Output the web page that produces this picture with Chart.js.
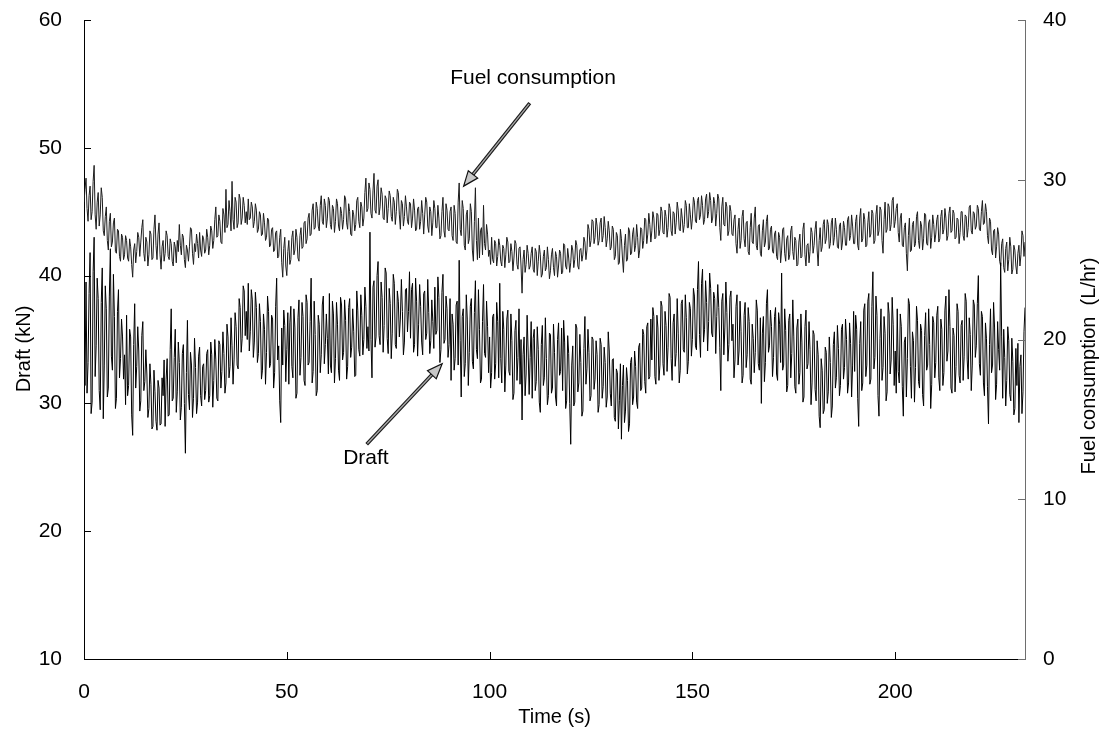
<!DOCTYPE html>
<html>
<head>
<meta charset="utf-8">
<script src="https://cdn.jsdelivr.net/npm/chart.js@4.4.1/dist/chart.umd.min.js"></script>
<style>
  html, body { margin: 0; padding: 0; background: #fff; }
  #wrap { width: 1103px; height: 748px; }
  canvas { display: block; }
</style>
</head>
<body>
<div id="wrap"><canvas id="c" width="1103" height="748"></canvas></div>
<script>
// ---------------- DATA (sampled every 0.25 s) ----------------
const sampleStep = 0.25;          // seconds between samples
const xTickValues = [0, 50, 100, 150, 200];
const draftTickValues = [10, 20, 30, 40, 50, 60];
const fuelTickValues = [0, 10, 20, 30, 40];

// Draft (kN), 40 samples per 10 s block
const draft000 = [36.0,31.4,39.5,30.8,33.2,38.6,41.8,29.2,30.1,40.3,43.0,32.1,34.5,39.8,38.2,31.0,29.5,37.9,40.6,28.8,33.0,39.2,37.4,30.5,31.2,38.4,42.1,33.7,32.6,40.1,36.8,29.6,30.4,37.2,38.9,32.0,33.5,36.6,35.2,31.9];
const draft010 = [33.8,29.9,36.9,30.6,31.4,35.8,35.2,29.1,27.5,34.6,37.8,31.2,32.9,36.0,34.1,29.4,30.2,35.3,36.4,31.0,31.7,34.2,32.3,28.9,29.6,33.1,31.5,28.0,28.2,32.6,30.9,28.6,27.9,31.8,31.2,28.3,28.4,32.0,30.6,33.4];
const draft020 = [28.2,31.9,33.5,29.0,29.1,34.2,37.4,30.2,30.4,33.6,35.8,29.3,30.9,34.8,33.2,28.7,29.7,33.9,34.6,30.0,26.1,32.4,36.5,30.7,29.5,34.0,33.0,28.9,30.4,35.1,32.8,29.2,30.1,33.7,34.4,30.6,29.8,32.9,33.1,30.3];
const draft030 = [31.0,33.9,34.2,30.1,30.6,34.8,33.8,29.7,31.8,35.0,33.4,30.4,30.2,34.9,34.6,31.2,32.5,35.6,33.9,30.8,31.6,36.2,35.2,32.0,32.9,36.7,34.5,31.5,33.4,37.1,36.0,33.0,32.7,38.2,37.5,34.0,35.1,39.2,38.8,35.3];
const draft040 = [37.2,35.0,39.4,34.1,35.6,38.9,38.1,33.6,34.8,38.7,37.5,33.2,33.9,37.8,36.4,31.9,32.6,37.0,35.8,31.5,34.0,38.4,37.2,32.8,33.1,36.9,36.6,31.2,32.4,37.6,39.8,33.4,34.5,30.2,28.5,35.9,33.0,37.3,36.1,31.7];
const draft050 = [34.2,37.1,31.5,36.3,37.6,32.9,32.0,37.4,35.9,30.4,30.8,36.7,38.1,32.2,33.6,37.9,36.8,31.8,31.4,38.5,37.9,33.0,33.2,36.4,39.8,31.6,32.5,38.0,35.4,30.6,31.0,36.9,36.2,32.4,33.8,37.7,38.4,33.1,34.6,37.0];
const draft060 = [35.1,32.3,38.6,33.0,32.4,38.0,37.0,31.6,33.5,37.9,36.2,32.6,31.8,38.3,37.7,33.4,34.0,38.1,36.5,31.9,32.9,37.5,38.2,33.6,34.4,37.4,35.6,32.1,32.2,38.8,37.3,34.2,33.7,38.5,36.9,33.8,35.0,39.1,37.6,34.3];
const draft070 = [36.0,34.1,43.4,35.0,32.0,39.1,39.6,34.4,35.2,40.0,41.1,35.3,34.6,39.5,38.3,34.0,36.1,40.6,40.2,35.1,33.9,39.0,37.8,33.5,35.5,40.1,39.4,34.6,34.3,38.8,38.0,35.2,36.6,39.7,37.2,33.8,34.8,38.9,39.0,35.6];
const draft080 = [37.2,40.3,35.1,38.9,39.4,34.0,34.6,39.8,38.0,33.7,36.2,39.3,37.6,34.8,33.8,38.6,38.8,35.0,35.5,39.7,37.1,33.9,34.9,38.1,36.4,34.3,39.1,35.4,35.7,39.9,38.3,33.2,34.2,38.7,40.1,34.7,35.0,38.4,37.4,33.6];
const draft090 = [34.6,38.2,31.8,37.0,36.2,32.6,33.5,37.7,38.0,33.0,41.2,34.9,30.5,36.8,37.4,32.1,33.1,38.5,36.6,31.4,34.0,37.6,38.2,33.3,32.7,37.1,39.6,34.2,33.5,38.9,35.8,31.6,31.9,36.4,39.3,33.9,33.6,38.0,36.0,32.4];
const draft100 = [35.2,31.2,32.4,36.8,37.0,31.9,33.1,37.9,36.4,32.0,39.4,33.5,31.6,37.2,35.8,30.9,33.0,36.6,37.3,32.5,32.2,37.0,34.9,30.3,30.8,35.7,36.5,31.8,33.6,37.4,31.5,35.0,28.7,33.8,35.2,30.6,32.3,36.9,34.1,30.7];
const draft110 = [33.6,36.4,30.4,35.1,35.8,31.0,31.7,36.0,34.2,30.1,29.3,34.6,36.1,31.4,32.0,36.7,33.5,29.9,30.6,35.5,35.4,30.8,31.2,36.2,34.0,30.5,29.8,35.0,36.3,32.2,32.5,35.9,31.0,36.5,34.8,29.6,30.2,35.3,33.9,30.0];
const draft120 = [26.8,33.0,34.5,29.8,30.1,36.2,35.9,30.9,31.6,35.4,33.2,29.0,29.4,34.3,36.8,31.5,32.7,35.8,34.0,30.2,30.6,35.2,35.0,31.1,31.9,34.9,33.8,29.3,29.9,35.1,34.6,30.4,31.3,34.4,33.2,29.7,30.5,35.6,34.1,30.8];
const draft130 = [29.8,33.4,33.5,28.9,28.6,32.7,32.4,28.0,30.2,33.1,27.2,31.4,33.0,28.5,29.4,32.8,31.8,27.8,28.4,33.2,33.6,29.9,30.5,34.1,32.9,30.1,29.6,34.4,34.7,31.0,31.2,35.8,35.4,31.7,30.8,36.0,36.3,31.9,32.1,36.6];
const draft140 = [33.4,37.5,36.8,32.1,31.5,36.9,35.9,31.8,33.0,38.0,37.6,33.1,32.2,37.2,36.1,32.5,34.4,38.6,38.3,33.5,31.8,36.3,37.0,32.9,33.9,38.2,35.5,31.6,32.6,37.8,38.1,34.2,34.0,38.5,36.7,32.3,33.3,37.9,37.4,33.7];
const draft150 = [35.0,39.0,38.4,34.5,34.2,38.9,41.1,35.4,33.6,39.4,40.5,34.8,35.8,39.6,37.9,34.1,36.4,40.2,39.0,35.5,35.2,38.7,38.2,33.9,36.8,39.3,37.5,34.4,31.0,38.0,38.6,33.8,35.9,39.5,37.1,33.3,34.6,38.3,38.8,34.9];
const draft160 = [36.2,32.0,33.4,37.6,38.5,33.0,34.1,38.0,35.6,31.6,32.2,36.9,37.9,32.8,33.8,37.5,36.4,31.9,31.5,36.2,35.1,32.4,34.0,38.1,37.3,33.1,32.6,36.7,30.0,35.5,36.8,31.7,33.2,37.8,38.9,34.0,34.5,37.3,36.0,32.1];
const draft170 = [33.6,36.8,37.5,32.3,31.8,37.1,36.2,33.2,40.2,32.6,33.0,37.4,35.7,30.9,31.4,36.5,37.0,32.0,33.9,38.1,35.2,31.3,30.8,35.9,36.6,31.5,32.4,37.0,34.8,30.1,30.5,36.0,37.3,32.7,33.1,36.4,34.2,29.9,31.6,35.7];
const draft180 = [35.4,31.1,30.2,34.9,33.8,29.0,28.1,33.5,32.6,29.2,29.5,34.4,34.0,30.0,30.9,35.2,33.2,28.9,29.8,34.6,35.6,31.2,32.0,36.1,34.3,30.6,31.4,35.8,36.2,31.9,32.8,36.6,35.0,30.8,31.6,36.3,34.7,30.5,33.0,37.2];
const draft190 = [32.5,36.9,35.8,30.4,28.2,34.7,36.4,31.0,31.6,37.3,37.8,32.1,33.0,38.0,38.6,31.5,31.9,37.6,40.3,32.7,33.6,38.4,36.9,30.6,29.0,35.1,37.4,31.8,32.8,36.8,35.5,30.2,30.9,37.9,37.0,32.3,33.4,38.3,36.2,31.4];
const draft200 = [34.1,30.8,37.4,32.5,31.6,37.0,36.0,31.3,29.0,34.8,35.2,30.5,33.5,38.2,37.8,32.9,30.4,35.6,34.9,30.1,32.8,37.6,36.5,31.7,31.2,36.2,35.7,30.7,29.8,35.3,37.1,32.6,33.0,37.4,34.6,29.6,31.5,36.8,36.3,32.0];
const draft210 = [33.2,36.9,37.6,32.0,31.0,36.6,35.8,31.4,32.4,37.3,38.4,33.3,34.1,38.9,36.0,31.2,30.8,35.9,35.3,30.9,32.9,37.8,37.2,32.2,31.6,36.1,36.5,31.8,33.7,38.6,38.0,33.4,31.9,36.7,35.4,31.0,33.0,38.1,37.7,33.6];
const draft220 = [34.5,37.8,40.0,33.1,32.2,37.2,36.8,31.6,30.6,36.3,35.1,31.3,28.4,34.6,37.4,32.4,33.0,37.9,35.9,30.3,31.5,36.4,34.2,32.6,41.0,35.2,30.4,35.8,33.6,29.8,31.8,36.0,34.9,30.7,30.2,35.1,33.3,29.1,29.6,34.3];
const draft230 = [31.4,34.7,28.5,32.9,33.8,29.2,30.9,35.6,37.5];

// Fuel consumption (L/hr), 40 samples per 10 s block
const fuel000 = [28.6,29.4,30.1,28.2,27.4,29.0,29.6,27.5,28.0,29.9,30.9,27.8,26.9,28.6,29.2,27.1,27.8,29.5,28.9,26.8,26.5,27.7,28.3,26.2,25.6,27.4,27.9,25.8,26.1,27.3,27.6,25.5,25.4,26.9,26.8,25.2,24.9,26.6,26.4,25.0];
const fuel010 = [25.3,26.5,26.2,25.1,24.9,26.3,25.8,24.7,23.9,25.6,26.0,24.8,25.5,26.7,26.4,25.2,26.1,27.0,27.5,25.4,24.9,26.4,26.1,24.6,25.3,26.8,26.6,25.0,25.1,26.9,27.8,25.9,25.0,26.6,27.3,25.3,24.4,25.8,26.2,24.9];
const fuel020 = [25.4,26.8,26.5,25.2,25.0,26.3,26.0,24.9,24.6,26.1,25.8,24.8,26.2,25.5,27.2,25.9,25.3,26.6,26.4,25.0,24.5,25.9,25.6,24.9,25.8,27.0,26.9,25.4,24.7,26.0,25.5,26.6,26.0,25.1,26.7,25.6,25.2,26.5,26.3,25.4];
const fuel030 = [25.6,26.9,26.4,25.3,25.9,27.1,26.8,25.7,26.2,27.5,28.3,26.4,26.5,27.8,27.4,26.1,26.0,28.2,27.8,26.7,29.4,27.0,27.2,28.7,28.0,26.8,29.9,27.5,26.9,28.9,28.6,27.0,27.3,29.1,28.8,27.2,27.6,28.9,28.4,27.3];
const fuel040 = [28.0,27.2,28.8,27.5,27.6,28.6,28.3,27.0,27.4,28.5,28.1,26.7,26.9,28.0,27.8,26.5,26.6,27.9,27.3,26.2,26.4,27.6,27.5,25.8,25.9,26.9,27.0,25.5,25.6,26.7,26.8,25.1,25.2,26.4,26.9,24.8,23.9,25.7,26.4,24.6];
const fuel050 = [24.0,25.5,26.2,24.7,25.0,26.4,26.8,25.3,25.6,26.9,26.4,25.1,24.9,26.5,27.0,25.7,25.8,27.3,27.4,26.0,26.3,27.6,27.9,26.5,26.6,28.1,28.5,26.9,27.0,28.6,28.2,27.1,26.8,28.4,29.0,27.4,27.2,28.8,28.4,27.0];
const fuel060 = [27.6,28.9,28.7,27.2,26.9,28.4,28.2,26.7,27.4,28.8,28.5,27.1,26.8,28.3,27.9,26.9,27.5,29.0,28.8,27.3,26.9,28.5,28.0,26.6,26.5,28.1,27.8,26.8,27.2,28.7,28.9,27.4,27.0,28.6,28.3,27.1,27.6,29.2,30.1,28.0];
const fuel070 = [28.2,29.8,29.4,27.9,27.6,29.3,30.4,28.1,27.9,29.6,30.0,27.8,28.3,29.5,29.1,27.6,27.5,29.0,28.8,27.3,28.2,29.3,29.0,27.7,27.4,28.9,28.6,27.2,28.0,29.4,29.2,27.8,26.9,28.7,28.5,27.1,27.7,29.0,28.3,27.4];
const fuel080 = [27.2,28.6,28.5,27.0,27.6,28.8,28.1,26.8,26.9,28.2,28.3,26.9,27.4,28.7,27.9,26.6,27.8,28.9,28.6,27.1,26.7,28.3,28.0,26.5,27.3,28.7,28.2,27.0,27.0,28.4,27.6,26.3,26.5,28.0,28.9,26.8,26.4,28.5,28.1,26.9];
const fuel090 = [26.8,28.0,28.3,26.5,26.2,28.4,27.9,26.1,26.0,28.6,29.8,26.9,26.5,28.7,28.2,25.9,25.6,27.8,28.1,26.0,26.3,28.5,28.0,25.6,24.9,27.4,29.5,26.2,25.0,27.6,25.1,26.8,27.0,25.3,28.4,26.0,25.6,27.2,26.6,25.2];
const fuel100 = [25.6,24.7,26.4,25.0,24.8,26.2,26.0,24.6,25.2,26.3,25.9,24.9,24.6,25.9,25.7,24.5,25.3,26.4,26.1,24.8,24.9,26.0,25.5,24.3,25.1,26.2,26.0,24.7,24.4,25.7,25.8,24.6,22.9,25.0,25.6,24.2,24.7,25.9,25.4,24.4];
const fuel110 = [24.6,25.4,25.8,24.4,24.2,25.7,25.5,24.0,24.9,25.9,25.3,23.9,24.1,25.2,25.6,24.3,24.5,25.8,25.0,23.8,24.3,25.3,25.7,24.5,24.0,25.5,25.2,23.9,24.6,25.6,25.4,24.1,24.2,26.0,25.9,24.6,24.4,25.7,25.1,24.2];
const fuel120 = [24.8,25.9,25.6,24.5,25.0,26.2,25.9,24.6,24.4,25.6,25.7,24.9,25.3,26.4,26.1,25.0,25.6,27.2,26.9,25.8,26.2,27.5,27.4,26.0,26.4,27.6,27.1,25.9,26.2,27.3,27.6,26.1,26.5,27.7,27.0,25.8,26.3,27.4,26.8,25.6];
const fuel130 = [25.8,27.1,26.9,25.0,25.2,26.7,26.5,24.7,24.8,26.9,26.3,25.1,24.2,25.9,26.6,24.9,25.0,27.0,26.8,25.3,25.4,26.6,27.0,25.5,25.9,27.2,26.4,25.1,25.6,27.0,26.9,25.7,26.2,27.6,27.5,26.0,26.6,27.9,27.2,26.1];
const fuel140 = [26.8,28.0,27.6,26.3,26.4,27.9,27.8,26.5,26.9,28.3,28.0,26.7,26.6,28.1,27.7,26.4,27.0,28.5,28.2,26.8,26.5,28.0,27.9,26.6,27.3,28.6,28.1,26.9,26.8,28.2,27.6,26.7,27.2,28.7,28.4,27.0,27.0,28.5,27.8,26.9];
const fuel150 = [27.6,28.9,28.6,27.4,27.3,28.7,28.9,27.5,27.8,29.0,28.4,27.2,27.5,28.8,29.1,27.6,28.0,29.2,28.7,27.3,27.6,28.9,28.5,27.1,27.9,29.1,28.8,27.0,26.2,28.3,28.9,27.2,27.1,28.6,28.3,26.5,26.8,28.4,28.0,26.6];
const fuel160 = [26.5,27.5,27.8,26.0,25.4,26.9,27.6,25.7,26.2,27.7,28.1,26.3,25.8,27.3,27.4,25.5,25.3,27.0,27.9,26.1,26.0,27.6,28.3,25.9,25.6,27.1,27.2,25.4,25.2,26.8,27.5,25.8,26.1,27.4,27.8,25.6,25.7,26.9,27.1,25.5];
const fuel170 = [25.4,26.6,26.8,25.2,25.0,26.7,26.4,24.8,25.6,26.9,27.0,25.4,24.9,26.3,26.5,25.0,25.3,26.8,27.1,25.5,25.0,26.4,26.2,24.6,24.7,26.1,26.6,25.1,25.2,26.9,27.3,25.3,24.6,25.9,26.0,24.8,25.5,27.0,26.7,25.4];
const fuel180 = [25.9,26.9,27.4,25.6,24.6,26.2,27.0,25.5,25.8,27.2,27.5,26.0,26.3,27.5,27.2,25.7,26.0,27.3,27.6,25.9,26.4,27.6,26.9,25.8,25.7,27.1,27.3,25.6,26.1,27.4,27.0,25.9,25.9,27.5,27.7,26.2,26.5,27.8,27.1,26.0];
const fuel190 = [26.0,27.4,27.8,25.9,25.6,27.6,28.2,26.1,26.3,27.9,27.5,25.8,25.9,27.3,28.0,26.4,26.6,28.1,27.9,26.0,26.2,27.8,28.4,26.5,26.8,28.3,28.1,26.2,25.4,27.5,28.6,26.7,26.9,28.5,28.3,26.8,27.2,28.7,28.9,27.0];
const fuel200 = [27.4,28.2,28.5,26.7,26.1,27.6,27.9,25.9,25.8,27.0,27.3,25.4,24.3,26.5,27.6,25.5,25.6,27.2,27.4,25.8,26.0,27.7,28.0,26.2,25.7,27.4,27.1,25.6,26.3,27.9,27.8,26.0,25.9,27.3,27.5,25.7,26.4,27.8,27.2,26.1];
const fuel210 = [26.6,27.5,27.8,26.1,26.3,27.7,28.1,26.6,26.9,28.2,27.6,26.2,26.5,27.9,28.3,26.7,26.8,28.1,27.9,26.3,26.4,27.6,27.5,26.0,26.7,28.0,28.0,26.5,26.2,27.8,27.7,26.4,27.0,28.3,28.4,26.8,26.6,28.0,27.9,26.9];
const fuel220 = [27.1,28.4,28.2,26.9,26.8,28.0,28.7,27.2,27.3,28.5,28.0,26.5,26.0,27.6,27.4,25.6,25.3,26.8,26.9,25.1,25.8,27.0,26.6,24.9,24.6,26.0,26.3,24.5,24.2,25.7,26.1,24.3,25.0,26.4,25.8,24.1,24.4,25.9,25.6,24.6];
const fuel230 = [24.1,25.4,25.9,24.6,25.3,26.8,26.5,25.2,26.1];

// Text annotations with arrow (data coordinates)
const fuelNote  = { text: 'Fuel consumption', textX: 110.7, textY: 36.35, tailX: 109.9, tailY: 34.8, tipX: 93.6, tipY: 29.6 };
const draftNote = { text: 'Draft',            textX: 69.5,  textY: 25.7,  tailX: 69.7,  tailY: 26.8, tipX: 88.3, tipY: 33.1 };

// ---------------- BUILD ----------------
const draftValues = [].concat(draft000, draft010, draft020, draft030, draft040, draft050, draft060, draft070,
  draft080, draft090, draft100, draft110, draft120, draft130, draft140, draft150, draft160, draft170,
  draft180, draft190, draft200, draft210, draft220, draft230);
const fuelValues = [].concat(fuel000, fuel010, fuel020, fuel030, fuel040, fuel050, fuel060, fuel070,
  fuel080, fuel090, fuel100, fuel110, fuel120, fuel130, fuel140, fuel150, fuel160, fuel170,
  fuel180, fuel190, fuel200, fuel210, fuel220, fuel230);

const toPoints = vals => vals.map((v, i) => ({ x: i * sampleStep, y: v }));

const FONT = "'Liberation Sans', Arial, Helvetica, sans-serif";
const tickFont = { family: FONT, size: 21 };

function drawArrow(ctx, x0, y0, x1, y1) {
  const ang = Math.atan2(y1 - y0, x1 - x0);
  const headLen = 15, headW = 6;
  const bx = x1 - Math.cos(ang) * headLen, by = y1 - Math.sin(ang) * headLen;
  ctx.lineCap = 'butt';
  ctx.beginPath(); ctx.moveTo(x0, y0); ctx.lineTo(bx, by);
  ctx.strokeStyle = '#1a1a1a'; ctx.lineWidth = 3.6; ctx.stroke();
  ctx.beginPath(); ctx.moveTo(x0 + Math.cos(ang) * 1, y0 + Math.sin(ang) * 1); ctx.lineTo(bx, by);
  ctx.strokeStyle = '#a8a8a8'; ctx.lineWidth = 1.4; ctx.stroke();
  const px = -Math.sin(ang), py = Math.cos(ang);
  ctx.beginPath();
  ctx.moveTo(x1, y1);
  ctx.lineTo(bx + px * headW, by + py * headW);
  ctx.lineTo(bx - px * headW, by - py * headW);
  ctx.closePath();
  ctx.fillStyle = '#c8c8c8'; ctx.fill();
  ctx.strokeStyle = '#111'; ctx.lineWidth = 1.2; ctx.stroke();
}

const decor = {
  id: 'decor',
  afterDraw(chart) {
    const { ctx, chartArea: a, scales } = chart;
    const x = scales.x, y = scales.y, y1 = scales.y1;
    ctx.save();
    // inward tick marks
    ctx.lineWidth = 1;
    ctx.strokeStyle = '#000';
    ctx.beginPath();
    xTickValues.forEach(v => {
      const px = Math.round(x.getPixelForValue(v)) + 0.5;
      ctx.moveTo(px, a.bottom); ctx.lineTo(px, a.bottom - 7);
    });
    draftTickValues.forEach(v => {
      const py = Math.round(y.getPixelForValue(v)) + 0.5;
      ctx.moveTo(a.left, py); ctx.lineTo(a.left + 7, py);
    });
    ctx.stroke();
    ctx.strokeStyle = '#6e6e6e';
    ctx.beginPath();
    fuelTickValues.forEach(v => {
      const py = Math.round(y1.getPixelForValue(v)) + 0.5;
      ctx.moveTo(a.right, py); ctx.lineTo(a.right - 7, py);
    });
    ctx.stroke();

    // axis titles
    ctx.fillStyle = '#000';
    ctx.font = '20px ' + FONT;
    ctx.textAlign = 'center';
    ctx.textBaseline = 'middle';
    ctx.fillText('Time (s)', (a.left + a.right) / 2, 717);
    ctx.save();
    ctx.translate(24, 349);
    ctx.rotate(-Math.PI / 2);
    ctx.fillText('Draft (kN)', 0, 0);
    ctx.restore();
    ctx.save();
    ctx.translate(1089, 366);
    ctx.rotate(-Math.PI / 2);
    ctx.fillText('Fuel consumption  (L/hr)', 0, 0);
    ctx.restore();

    // annotations
    ctx.font = '21px ' + FONT;
    ctx.fillText(fuelNote.text, x.getPixelForValue(fuelNote.textX), y1.getPixelForValue(fuelNote.textY));
    ctx.fillText(draftNote.text, x.getPixelForValue(draftNote.textX), y.getPixelForValue(draftNote.textY));
    drawArrow(ctx, x.getPixelForValue(fuelNote.tailX), y1.getPixelForValue(fuelNote.tailY),
                   x.getPixelForValue(fuelNote.tipX), y1.getPixelForValue(fuelNote.tipY));
    drawArrow(ctx, x.getPixelForValue(draftNote.tailX), y.getPixelForValue(draftNote.tailY),
                   x.getPixelForValue(draftNote.tipX), y.getPixelForValue(draftNote.tipY));
    ctx.restore();
  }
};

const zeroPad = s => { s.paddingTop = 0; s.paddingBottom = 0; s.paddingLeft = 0; s.paddingRight = 0; };

new Chart(document.getElementById('c'), {
  type: 'line',
  data: {
    datasets: [
      { label: 'Draft (kN)', data: toPoints(draftValues), yAxisID: 'y',
        borderColor: '#000', borderWidth: 1, pointRadius: 0, tension: 0, fill: false },
      { label: 'Fuel consumption (L/hr)', data: toPoints(fuelValues), yAxisID: 'y1',
        borderColor: '#1c1c1c', borderWidth: 1, pointRadius: 0, tension: 0, fill: false }
    ]
  },
  options: {
    responsive: false,
    animation: false,
    events: [],
    layout: { padding: { top: 20, left: 0, right: 0, bottom: 0 } },
    plugins: { legend: { display: false }, tooltip: { enabled: false }, title: { display: false } },
    scales: {
      x: {
        type: 'linear', min: 0, max: 232,
        ticks: { stepSize: 50, includeBounds: false, padding: 21, color: '#000', font: tickFont, maxRotation: 0 },
        afterBuildTicks: s => { s.ticks = xTickValues.map(v => ({ value: v })); },
        grid: { display: false, drawTicks: false },
        border: { display: true, color: '#000', width: 1 },
        afterFit: s => { s.height = 89; zeroPad(s); }
      },
      y: {
        type: 'linear', position: 'left', min: 10, max: 60,
        ticks: { stepSize: 10, padding: 22, color: '#000', font: tickFont },
        afterBuildTicks: s => { s.ticks = draftTickValues.map(v => ({ value: v })); },
        grid: { display: false, drawTicks: false },
        border: { display: true, color: '#000', width: 1 },
        afterFit: s => { s.width = 84; zeroPad(s); }
      },
      y1: {
        type: 'linear', position: 'right', min: 0, max: 40,
        ticks: { stepSize: 10, padding: 18, color: '#000', font: tickFont },
        afterBuildTicks: s => { s.ticks = fuelTickValues.map(v => ({ value: v })); },
        grid: { display: false, drawTicks: false },
        border: { display: true, color: '#6e6e6e', width: 1 },
        afterFit: s => { s.width = 78; zeroPad(s); }
      }
    }
  },
  plugins: [decor]
});
</script>
</body>
</html>
